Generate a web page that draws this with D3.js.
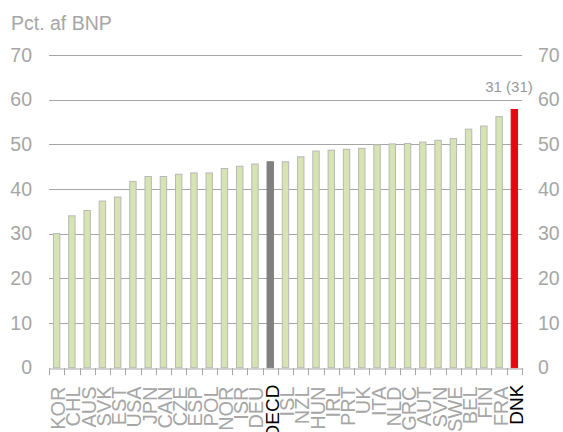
<!DOCTYPE html>
<html><head><meta charset="utf-8">
<script src="https://cdn.jsdelivr.net/npm/d3@7"></script>
<style>body{margin:0;background:#fff;} text{font-family:"Liberation Sans",Arial,sans-serif;}</style>
</head><body>
<svg id="c" width="563" height="432"></svg>
<script>
const categories = ["KOR","CHL","AUS","SVK","EST","USA","JPN","CAN","CZE","ESP","POL","NOR","ISR","DEU","OECD","ISL","NZL","HUN","IRL","PRT","UK","ITA","NLD","GRC","AUT","SVN","SWE","BEL","FIN","FRA","DNK"];
const values = [30.0,34.0,35.2,37.3,38.2,41.7,42.8,42.8,43.3,43.6,43.6,44.6,45.1,45.6,46.1,46.1,47.2,48.5,48.7,48.9,49.1,49.9,50.1,50.2,50.5,50.9,51.3,53.4,54.1,56.2,57.8];
const yTicks = [0,10,20,30,40,50,60,70];
const yLabel = "Pct. af BNP";
const annotation = "31 (31)";

const svg = d3.select("#c");
const x = d3.scaleBand().domain(categories).range([49,522]).paddingInner(0.58).paddingOuter(0.29);
const y = d3.scaleLinear().domain([0,70]).range([367.7,55]);
const grey = "#a6a6a6";
const isKey = d => d==="DNK"||d==="OECD";

// gridlines
svg.append("g").selectAll("line").data(yTicks.filter(d=>d>0)).join("line")
  .attr("x1",49).attr("x2",522).attr("y1",d=>Math.round(y(d))+0.5).attr("y2",d=>Math.round(y(d))+0.5)
  .attr("stroke",grey).attr("stroke-width",1);

// bars
svg.append("g").selectAll("rect").data(categories).join("rect")
  .attr("x",(d)=>x(d)).attr("width",x.bandwidth())
  .attr("y",(d,i)=>y(values[i])).attr("height",(d,i)=>y(0)-y(values[i]))
  .attr("fill",d=>d==="DNK"?"#e30613":d==="OECD"?"#808080":"#d7e4b2")
  .attr("stroke",d=>d==="DNK"?"#e30613":d==="OECD"?"#808080":"#b8b8b8")
  .attr("stroke-width",1);

// x axis
const xa = svg.append("g").attr("transform",`translate(0,${Math.round(y(0))+0.5})`)
  .call(d3.axisBottom(x).tickSize(0).tickFormat(""));
xa.select(".domain").attr("stroke",grey);
const bounds = d3.range(categories.length+1).map(i=>49+i*(473/categories.length));
svg.append("g").selectAll("line").data(bounds).join("line")
  .attr("x1",d=>Math.round(d)+0.5).attr("x2",d=>Math.round(d)+0.5)
  .attr("y1",Math.round(y(0))).attr("y2",Math.round(y(0))+7).attr("stroke",grey);

svg.append("g").selectAll("text").data(categories).join("text")
  .attr("transform",d=>isKey(d)
     ? `translate(${x(d)+x.bandwidth()/2+8.5},384.5) rotate(-90)`
     : `translate(${x(d)+x.bandwidth()/2+8.5},386.5) rotate(-90) scale(0.95,1)`)
  .attr("text-anchor","end").attr("font-size",d=>isKey(d)?19:21)
  .attr("fill",d=>isKey(d)?"#000":grey)
  .text(d=>d);

// y axes labels
const yl = d3.axisLeft(y).tickValues(yTicks).tickSize(0);
const gl = svg.append("g").attr("transform","translate(34,0)").call(yl);
gl.select(".domain").remove();
gl.selectAll("text").attr("font-size",19.5).attr("fill",grey).attr("font-family","Liberation Sans, Arial").attr("x",-2);
const gr = svg.append("g").attr("transform","translate(537,0)").call(d3.axisRight(y).tickValues(yTicks).tickSize(0));
gr.select(".domain").remove();
gr.selectAll("text").attr("font-size",19.5).attr("fill",grey).attr("font-family","Liberation Sans, Arial").attr("x",1);

svg.append("text").attr("x",11).attr("y",30).attr("font-size",19.5).attr("fill",grey).text(yLabel);
svg.append("text").attr("x",509).attr("y",92).attr("text-anchor","middle").attr("font-size",15).attr("fill","#999").text(annotation);
</script>
</body></html>
